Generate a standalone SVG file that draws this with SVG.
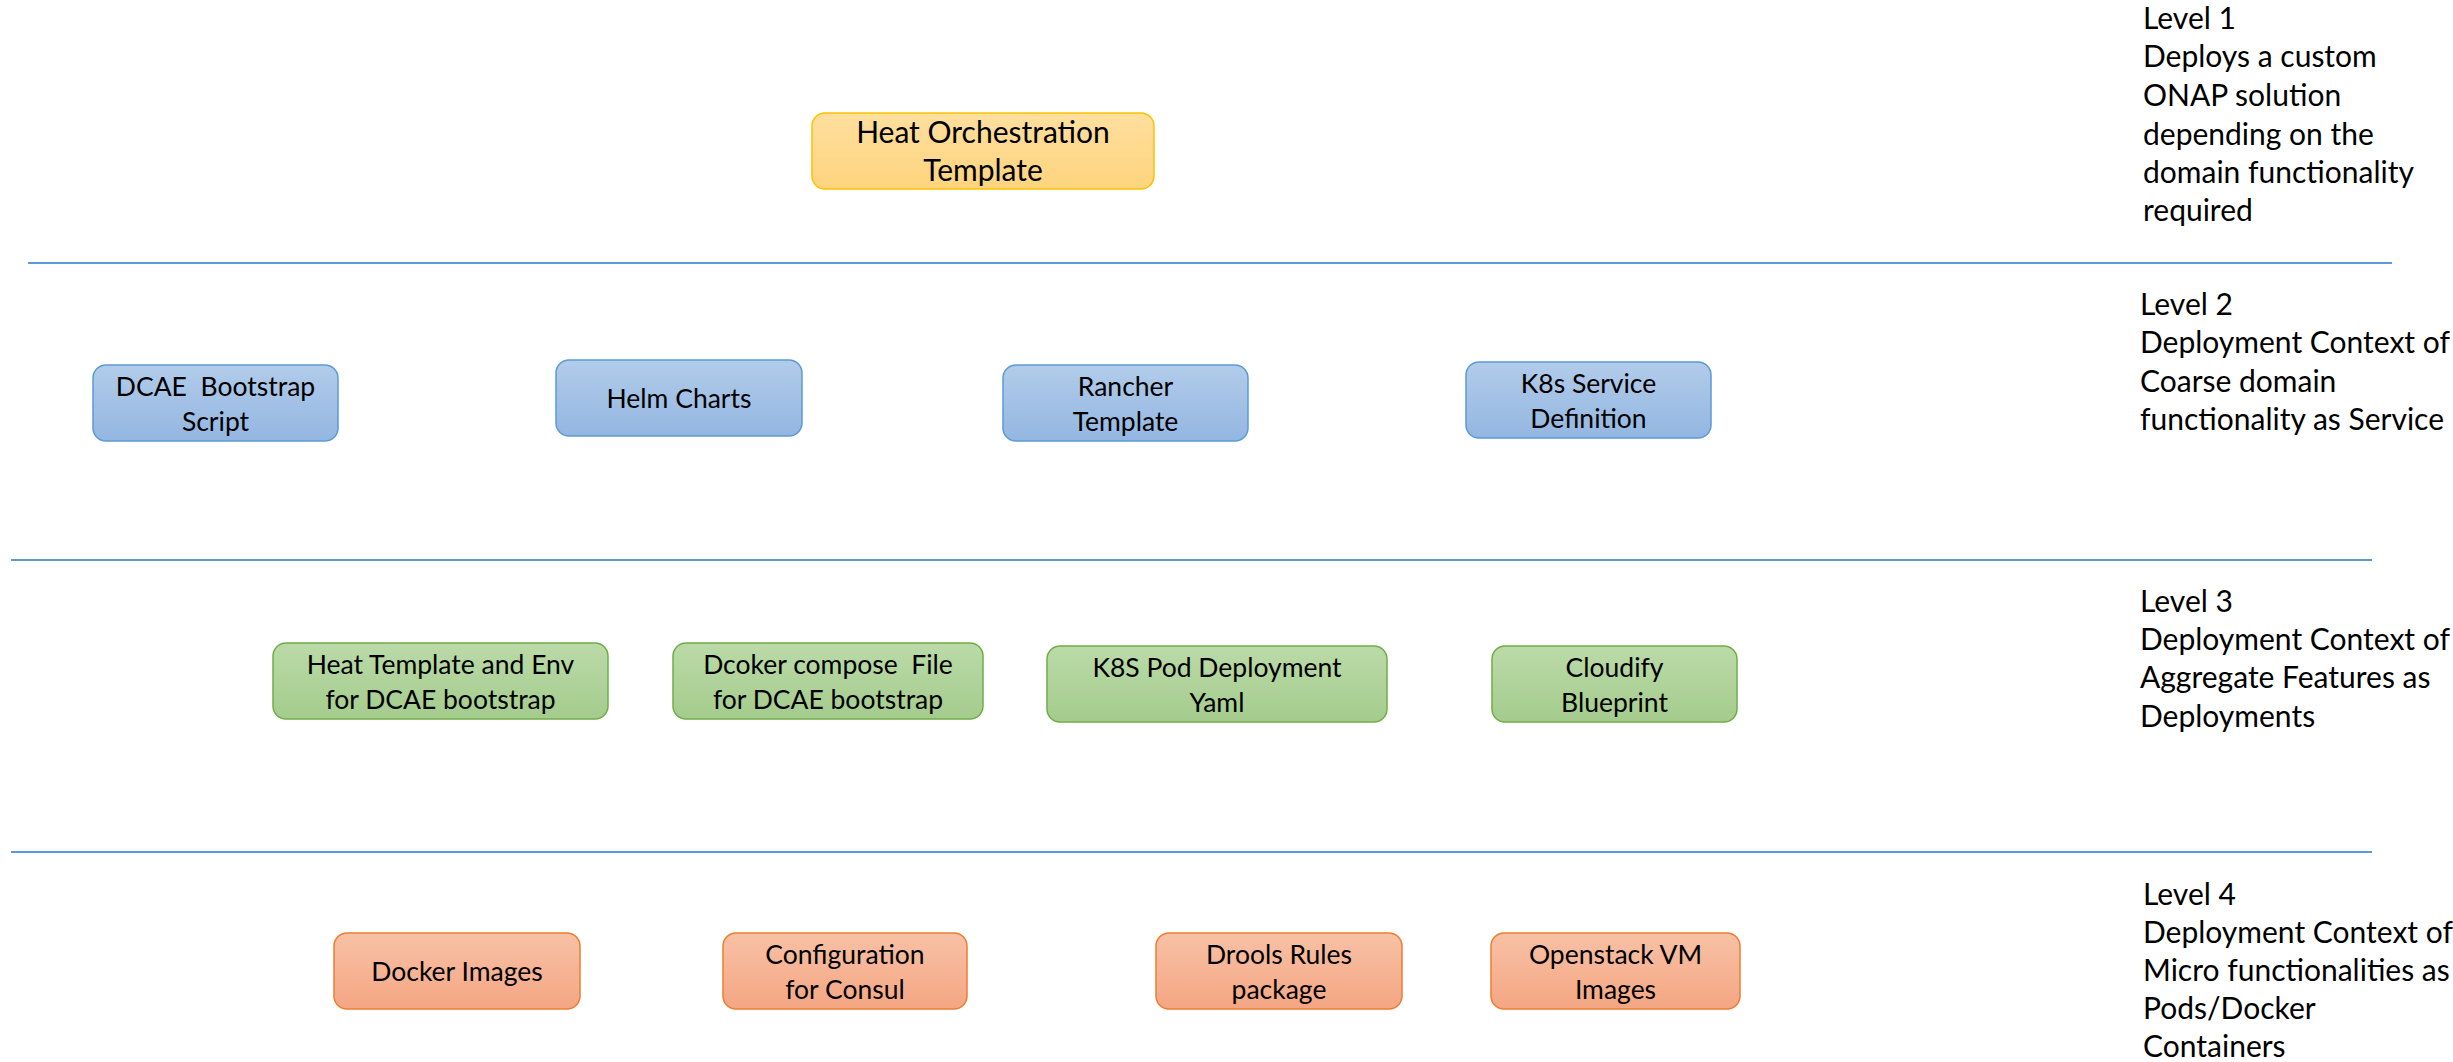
<svg xmlns="http://www.w3.org/2000/svg" width="2453" height="1062" viewBox="0 0 2453 1062">
<style>
text{font-family:Lato,"Carlito","Liberation Sans",sans-serif;fill:#000}
.big{font-size:30px}
.bx{font-size:26.5px;text-anchor:middle}
.hd{font-size:30px;text-anchor:middle}
.sep{stroke:#5B9BD5;stroke-width:2;fill:none}
.gold{fill:url(#gGold);stroke:#FFC000;stroke-width:1.5}
.blue{fill:url(#gBlue);stroke:#5B9BD5;stroke-width:1.5}
.green{fill:url(#gGreen);stroke:#70AD47;stroke-width:1.5}
.orange{fill:url(#gOrange);stroke:#ED7D31;stroke-width:1.5}
</style>
<defs>
<linearGradient id="gGold" x1="0" y1="0" x2="0" y2="1"><stop offset="0" stop-color="#FFDF9F"/><stop offset="1" stop-color="#FED47D"/></linearGradient>
<linearGradient id="gBlue" x1="0" y1="0" x2="0" y2="1"><stop offset="0" stop-color="#B2CCEA"/><stop offset="1" stop-color="#93B6E1"/></linearGradient>
<linearGradient id="gGreen" x1="0" y1="0" x2="0" y2="1"><stop offset="0" stop-color="#BBDAA8"/><stop offset="1" stop-color="#A4CC8D"/></linearGradient>
<linearGradient id="gOrange" x1="0" y1="0" x2="0" y2="1"><stop offset="0" stop-color="#F8C1A5"/><stop offset="1" stop-color="#F4A683"/></linearGradient>
</defs>
<rect width="2453" height="1062" fill="#fff"/>
<g id="separators">
<line class="sep" x1="28" y1="263" x2="2392" y2="263"/>
<line class="sep" x1="11" y1="560" x2="2372" y2="560"/>
<line class="sep" x1="11" y1="852" x2="2372" y2="852"/>
</g>
<g id="level-labels">
<text class="big" x="2143" y="29">Level 1</text>
<text class="big" x="2143" y="67">Deploys a custom</text>
<text class="big" x="2143" y="106">ONAP solution</text>
<text class="big" x="2143" y="145">depending on the</text>
<text class="big" x="2143" y="183">domain functionality</text>
<text class="big" x="2143" y="221">required</text>
<text class="big" x="2140" y="315">Level 2</text>
<text class="big" x="2140" y="353">Deployment Context of</text>
<text class="big" x="2140" y="392">Coarse domain</text>
<text class="big" x="2140" y="430">functionality as Service</text>
<text class="big" x="2140" y="612">Level 3</text>
<text class="big" x="2140" y="650">Deployment Context of</text>
<text class="big" x="2140" y="688">Aggregate Features as</text>
<text class="big" x="2140" y="727">Deployments</text>
<text class="big" x="2143" y="905">Level 4</text>
<text class="big" x="2143" y="943">Deployment Context of</text>
<text class="big" x="2143" y="981">Micro functionalities as</text>
<text class="big" x="2143" y="1019">Pods/Docker</text>
<text class="big" x="2143" y="1057">Containers</text>
</g>
<g id="heat-orchestration-template">
<rect class="gold" x="812" y="113" width="342" height="76" rx="13"/>
<text class="hd" x="983" y="143">Heat Orchestration</text>
<text class="hd" x="983" y="181">Template</text>
</g>
<g id="dcae-bootstrap-script">
<rect class="blue" x="93" y="365" width="245" height="76" rx="13"/>
<text class="bx" x="215.5" y="396" xml:space="preserve">DCAE  Bootstrap</text>
<text class="bx" x="215.5" y="431">Script</text>
</g>
<g id="helm-charts">
<rect class="blue" x="556" y="360" width="246" height="76" rx="13"/>
<text class="bx" x="679" y="408">Helm Charts</text>
</g>
<g id="rancher-template">
<rect class="blue" x="1003" y="365" width="245" height="76" rx="13"/>
<text class="bx" x="1125.5" y="396">Rancher</text>
<text class="bx" x="1125.5" y="431">Template</text>
</g>
<g id="k8s-service-definition">
<rect class="blue" x="1466" y="362" width="245" height="76" rx="13"/>
<text class="bx" x="1588.5" y="393">K8s Service</text>
<text class="bx" x="1588.5" y="428">Definition</text>
</g>
<g id="heat-template-env">
<rect class="green" x="273" y="643" width="335" height="76" rx="13"/>
<text class="bx" x="440.5" y="674">Heat Template and Env</text>
<text class="bx" x="440.5" y="709">for DCAE bootstrap</text>
</g>
<g id="docker-compose-file">
<rect class="green" x="673" y="643" width="310" height="76" rx="13"/>
<text class="bx" x="828" y="674" xml:space="preserve">Dcoker compose  File</text>
<text class="bx" x="828" y="709">for DCAE bootstrap</text>
</g>
<g id="k8s-pod-deployment">
<rect class="green" x="1047" y="646" width="340" height="76" rx="13"/>
<text class="bx" x="1217" y="677">K8S Pod Deployment</text>
<text class="bx" x="1217" y="712">Yaml</text>
</g>
<g id="cloudify-blueprint">
<rect class="green" x="1492" y="646" width="245" height="76" rx="13"/>
<text class="bx" x="1614.5" y="677">Cloudify</text>
<text class="bx" x="1614.5" y="712">Blueprint</text>
</g>
<g id="docker-images">
<rect class="orange" x="334" y="933" width="246" height="76" rx="13"/>
<text class="bx" x="457" y="981">Docker Images</text>
</g>
<g id="configuration-consul">
<rect class="orange" x="723" y="933" width="244" height="76" rx="13"/>
<text class="bx" x="845" y="964">Configuration</text>
<text class="bx" x="845" y="999">for Consul</text>
</g>
<g id="drools-rules-package">
<rect class="orange" x="1156" y="933" width="246" height="76" rx="13"/>
<text class="bx" x="1279" y="964">Drools Rules</text>
<text class="bx" x="1279" y="999">package</text>
</g>
<g id="openstack-vm-images">
<rect class="orange" x="1491" y="933" width="249" height="76" rx="13"/>
<text class="bx" x="1615.5" y="964">Openstack VM</text>
<text class="bx" x="1615.5" y="999">Images</text>
</g>
</svg>
